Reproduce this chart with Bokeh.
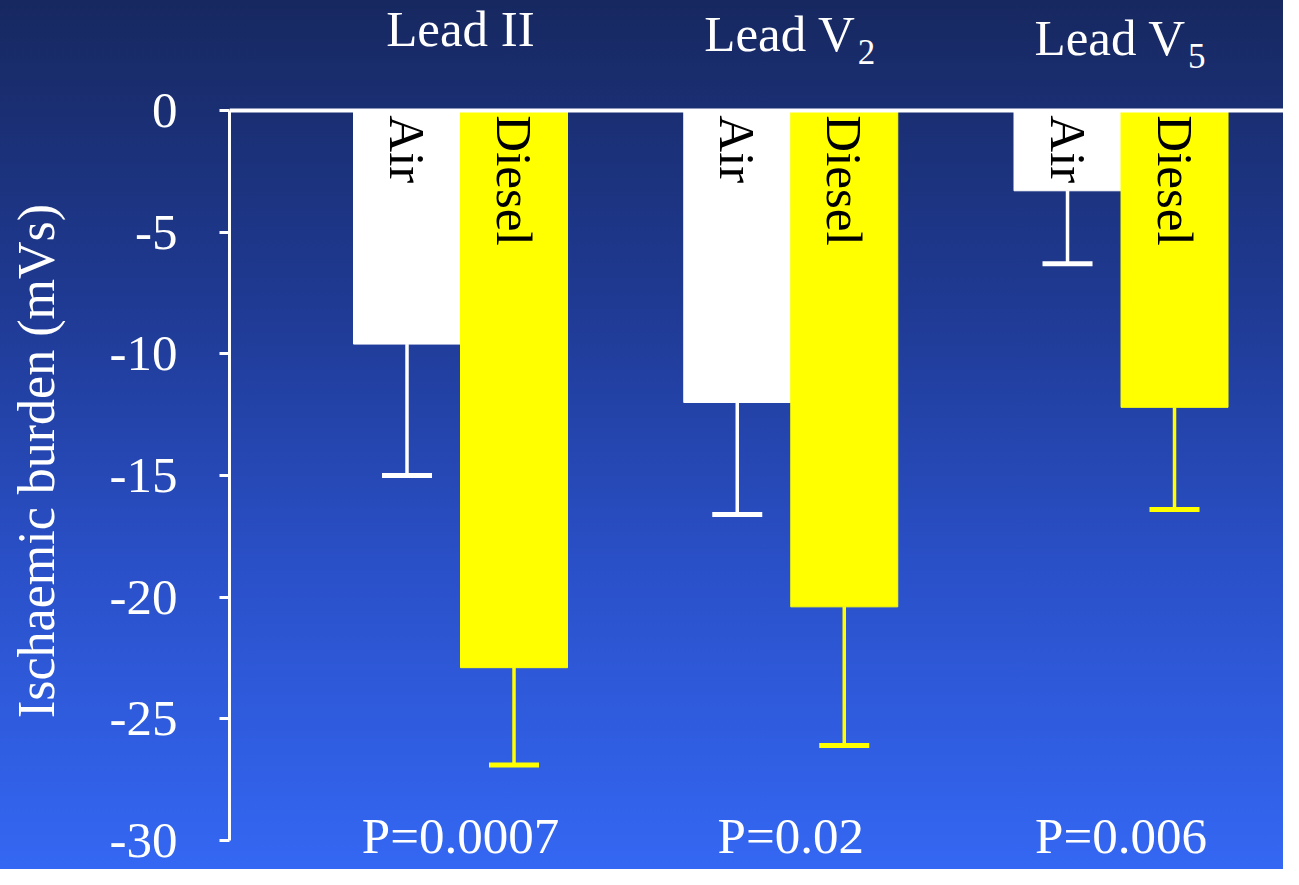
import math
from bokeh.plotting import figure
from bokeh.models import (ColumnDataSource, Range1d, FixedTicker, Span, Whisker,
                          TeeHead, InlineStyleSheet)
from bokeh.core.properties import value
from bokeh.embed import file_html
from bokeh.resources import INLINE

# ---- data ----
leads = ["Lead II", "Lead V2", "Lead V5"]
title_main = ["Lead II", "Lead V", "Lead V"]
title_sub = ["", "2", "5"]
air_mean = [-9.6, -12.0, -3.3]
air_se = [5.4, 4.6, 3.0]
diesel_mean = [-22.9, -20.4, -12.2]
diesel_se = [4.0, 5.7, 4.2]
p_values = ["P=0.0007", "P=0.02", "P=0.006"]
y_ticks = [-30, -25, -20, -15, -10, -5, 0]
y_title = "Ischaemic burden (mVs)"

FONT = "Liberation Serif"
W, H = 1283, 869

group_x = [i + 1 for i in range(len(leads))]
bar_w = 0.324
dodge = 0.162

air_x = [g - dodge for g in group_x]
diesel_x = [g + dodge for g in group_x]

air_src = ColumnDataSource(dict(x=air_x, top=[0] * 3, bottom=air_mean,
                                lower=[m - s for m, s in zip(air_mean, air_se)],
                                label=["Air"] * 3))
diesel_src = ColumnDataSource(dict(x=diesel_x, top=[0] * 3, bottom=diesel_mean,
                                   lower=[m - s for m, s in zip(diesel_mean, diesel_se)],
                                   label=["Diesel"] * 3))

p = figure(width=W, height=H, output_backend="svg", toolbar_location=None,
           x_range=Range1d(0.3005, 3.492), y_range=Range1d(-31.195, 4.521),
           x_axis_location=None, y_axis_location="left")
p.min_border = 0
p.min_border_left = 229
p.min_border_right = 0
p.min_border_top = 0
p.min_border_bottom = 0
p.background_fill_color = None
p.border_fill_color = None
p.outline_line_color = None
p.grid.visible = False
p.stylesheets = [InlineStyleSheet(css=":host { background: linear-gradient(to bottom, #172860 0%, #1f3a93 35%, #2a50c8 65%, #3467f3 100%); }")]

# y axis
ax = p.yaxis[0]
ax.ticker = FixedTicker(ticks=y_ticks)
ax.major_label_overrides = {t: str(t) for t in y_ticks}
ax.bounds = (-30, 0)
ax.axis_line_color = "white"
ax.axis_line_width = 3
ax.major_tick_line_color = "white"
ax.major_tick_line_width = 3
ax.major_tick_out = 10
ax.major_tick_in = 0
ax.minor_tick_line_color = None
ax.major_label_text_color = "white"
ax.major_label_text_font = FONT
ax.major_label_text_font_size = "51px"
ax.major_label_standoff = 42
# trailing no-break spaces nudge the centred label downwards
ax.axis_label = y_title + "\u00a0" * 4
ax.axis_label_text_color = "white"
ax.axis_label_text_font = FONT
ax.axis_label_text_font_size = "52px"
ax.axis_label_text_font_style = "normal"
ax.axis_label_standoff = 42

# zero line
p.add_layout(Span(location=0, dimension="width", line_color="white", line_width=4))

# bars
p.vbar(x="x", top="top", bottom="bottom", width=bar_w, source=air_src,
       fill_color="white", line_color="white")
p.vbar(x="x", top="top", bottom="bottom", width=bar_w, source=diesel_src,
       fill_color="#ffff00", line_color="#ffff00")

# error bars (downward only)
for src, col in ((air_src, "white"), (diesel_src, "#ffff00")):
    p.add_layout(Whisker(source=src, base="x", upper="bottom", lower="lower",
                         dimension="height", line_color=col, line_width=3.5,
                         upper_head=None,
                         lower_head=TeeHead(size=50, line_color=col, line_width=5)))

# bar labels
for src in (air_src, diesel_src):
    p.text(x="x", y=-0.2, text="label", source=src, angle=-math.pi / 2,
           text_align="left", text_baseline="middle", text_color="black",
           text_font=value(FONT), text_font_size="51px")

# titles
title_y = [3.33, 3.16, 3.00]
sub_y = [0, 2.42, 2.26]
p.text(x=[group_x[0]], y=[title_y[0]], text=[title_main[0]], text_align="center",
       text_baseline="middle", text_color="white",
       text_font=value(FONT), text_font_size="51px")
p.text(x=group_x[1:], y=title_y[1:], text=title_main[1:], x_offset=65,
       text_align="right", text_baseline="middle", text_color="white",
       text_font=value(FONT), text_font_size="51px")
p.text(x=group_x[1:], y=sub_y[1:], text=title_sub[1:], x_offset=67,
       text_align="left", text_baseline="middle", text_color="white",
       text_font=value(FONT), text_font_size="35px")

# p-values
p.text(x=group_x, y=-29.8, text=p_values, text_align="center",
       text_baseline="middle", text_color="white",
       text_font=value(FONT), text_font_size="51px")

open("out.html", "w").write(file_html(p, INLINE))
